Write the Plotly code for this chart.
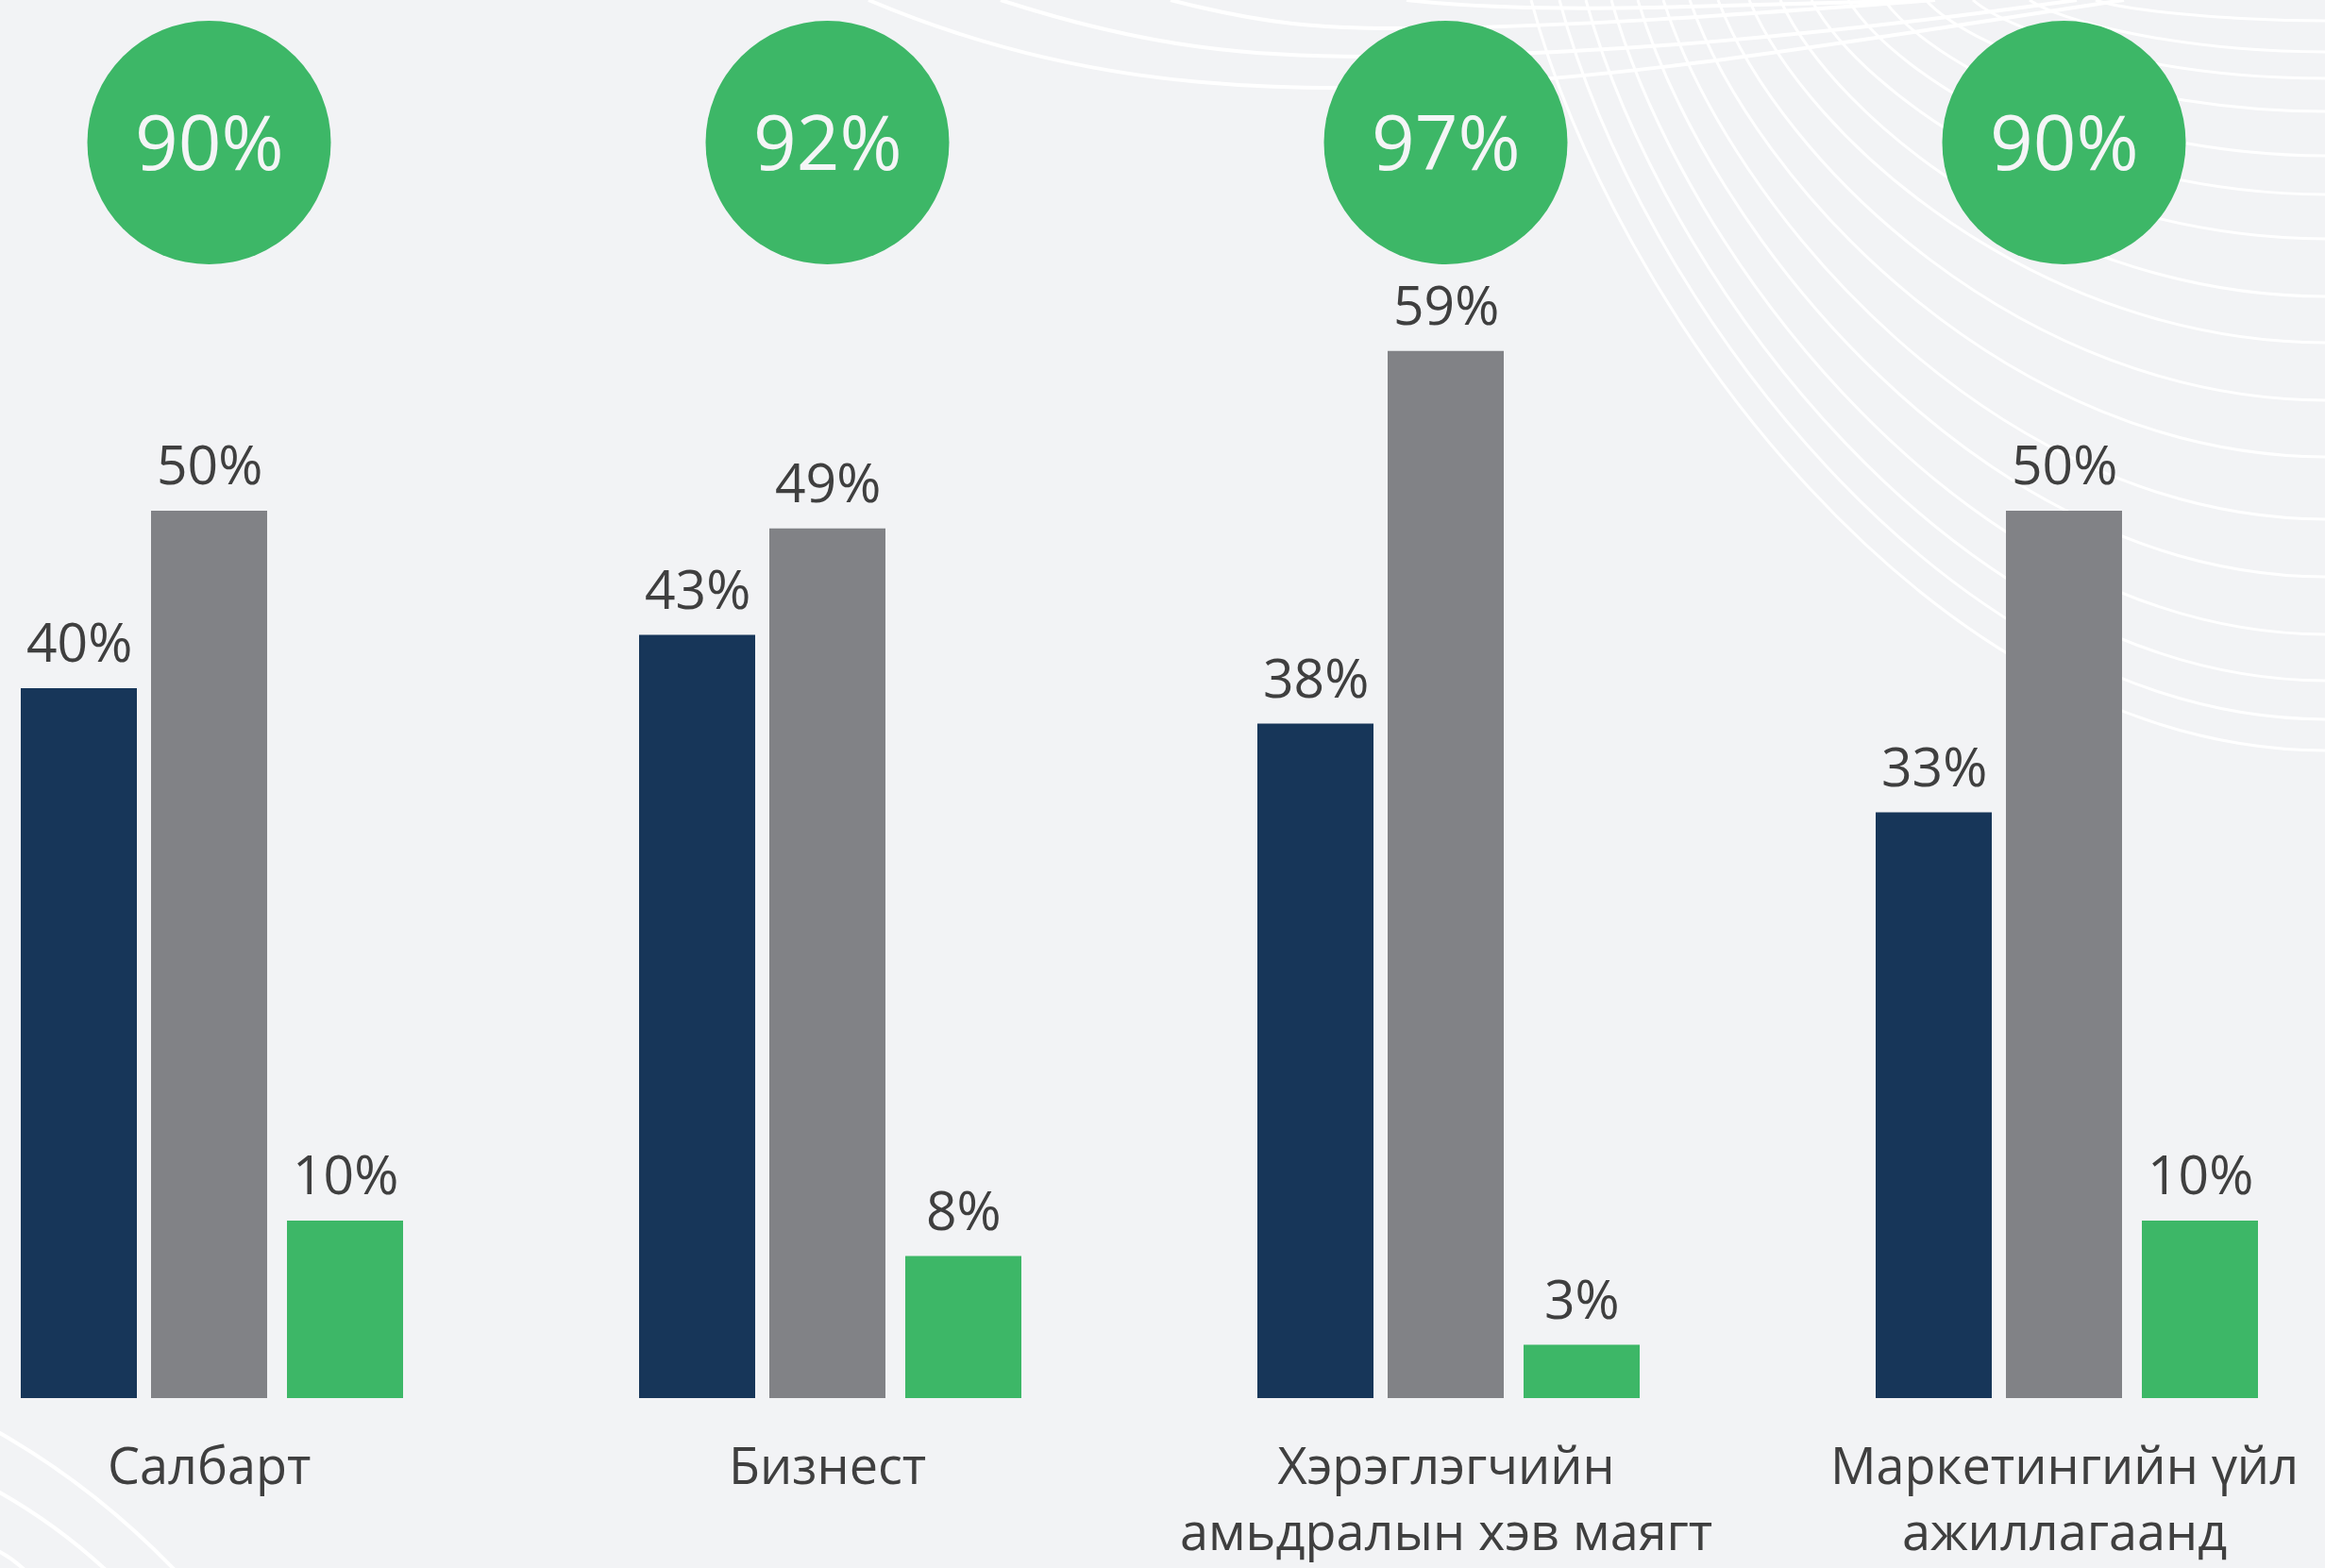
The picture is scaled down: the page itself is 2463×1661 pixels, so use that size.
import plotly.graph_objects as go

# ---- data -------------------------------------------------------------
categories = [
    "Салбарт",
    "Бизнест",
    "Хэрэглэгчийн<br>амьдралын хэв маягт",
    "Маркетингийн үйл<br>ажиллагаанд",
]
totals = [90, 92, 97, 90]          # values shown in the green circles
share_navy = [40, 43, 38, 33]
share_gray = [50, 49, 59, 50]
share_green = [10, 8, 3, 10]

# ---- page geometry (pixels) ------------------------------------------
W, H = 2463, 1661
BASE_PX = 1481          # baseline of the bars
PX_PER_PCT = 18.8       # vertical scale
GROUP_PX = 655          # distance between category centres
FIRST_PX = 221.5        # centre of the first category
CIRCLE_PX = 151         # vertical centre of the total circles
LABEL_TOP_PX = 1512     # top of the category label block

BG = "#F2F3F5"
NAVY = "#173659"
GRAY = "#818286"
GREEN = "#3DB767"
TEXT = "#3F3F3F"
FONT = "Open Sans"


def y_at(px):
    """Data-space y for a vertical pixel position."""
    return (BASE_PX - px) / PX_PER_PCT


x_range = [-FIRST_PX / GROUP_PX, (W - FIRST_PX) / GROUP_PX]
y_range = [y_at(H), y_at(0)]
circle_y = y_at(CIRCLE_PX)

bar_w = 123 / GROUP_PX
series = [
    ("navy", share_navy, NAVY, -199.5 / GROUP_PX),
    ("gray", share_gray, GRAY, -61.5 / GROUP_PX),
    ("green", share_green, GREEN, 82.5 / GROUP_PX),
]

idx = list(range(len(categories)))
fig = go.Figure()
annotations = []

for name, vals, color, off in series:
    fig.add_trace(go.Bar(
        x=idx, y=vals, name=name,
        offset=off, width=bar_w,
        marker=dict(color=color, line=dict(width=0)),
        hoverinfo="y",
    ))
    for i, v in zip(idx, vals):
        annotations.append(dict(
            x=i + off + bar_w / 2, y=v, xref="x", yref="y",
            text=f"{v}%", showarrow=False,
            yanchor="bottom", xanchor="center", yshift=9,
            font=dict(family=FONT, size=57, color=TEXT),
        ))

# green circles holding the totals
fig.add_trace(go.Scatter(
    x=idx, y=[circle_y] * len(idx), mode="markers",
    marker=dict(size=258, color=GREEN, line=dict(width=0)),
    hoverinfo="skip", cliponaxis=False,
))
for i, t in zip(idx, totals):
    annotations.append(dict(
        x=i, y=circle_y, xref="x", yref="y",
        text=f"{t}%", showarrow=False,
        yanchor="middle", xanchor="center", yshift=3,
        font=dict(family=FONT, size=80, color="#F4F5F6"),
    ))

# category names under each group
for i, c in zip(idx, categories):
    annotations.append(dict(
        x=i, y=y_at(LABEL_TOP_PX), xref="x", yref="y",
        text=c, showarrow=False, yanchor="top", xanchor="center",
        font=dict(family=FONT, size=54, color=TEXT),
    ))


# ---- decorative white line work ---------------------------------------
def pt(x, y):
    return f"{x / W:.5f},{1 - y / H:.5f}"


def path(start, *segments):
    d = "M " + pt(*start)
    for seg in segments:
        kind, pts = seg[0], seg[1:]
        d += f" {kind} " + " ".join(pt(*p) for p in pts)
    return d


shapes = []

# fan of curves dropping from the top edge into the right edge
fan = [(1622, 795), (1652, 762), (1680, 721), (1707, 672), (1735, 611),
       (1762, 550), (1790, 484), (1820, 424), (1853, 363), (1886, 314),
       (1919, 253), (1958, 206), (1996, 165), (2040, 118), (2090, 83),
       (2150, 55), (2220, 22)]
for x0, yr in fan:
    span = W - x0
    d = path((x0, 0), ("C", (x0 + 0.1 * span, 0.4 * yr),
                       (x0 + 0.5 * span, yr), (W + 2, yr)))
    shapes.append(dict(type="path", path=d, xref="paper", yref="paper",
                       line=dict(color="white", width=3), layer="below"))

# hanging arcs near the top
arcs = [
    ((920, 0), ("C", (1120, 85), (1300, 95), (1450, 93)),
     ("C", (1700, 90), (1950, 45), (2250, 0))),
    ((1060, 0), ("C", (1220, 52), (1330, 60), (1450, 60)),
     ("C", (1700, 60), (1950, 35), (2200, 0))),
    ((1240, 0), ("C", (1340, 26), (1400, 30), (1480, 30)),
     ("C", (1650, 30), (1850, 15), (2050, 0))),
    ((1490, 0), ("C", (1560, 8), (1650, 10), (1750, 8)),
     ("C", (1850, 6), (1950, 3), (2050, 0))),
]
for a in arcs:
    shapes.append(dict(type="path", path=path(*a), xref="paper", yref="paper",
                       line=dict(color="white", width=4), layer="below"))

# corner strokes at the bottom left
corner = [
    ((-2, 1517), ("Q", (100, 1575), (185, H + 2))),
    ((-2, 1580), ("Q", (60, 1615), (112, H + 2))),
    ((-2, 1643), ("Q", (12, 1650), (26, H + 2))),
]
for c in corner:
    shapes.append(dict(type="path", path=path(*c), xref="paper", yref="paper",
                       line=dict(color="white", width=4), layer="below"))

fig.update_layout(
    width=W, height=H,
    margin=dict(l=0, r=0, t=0, b=0),
    paper_bgcolor=BG, plot_bgcolor=BG,
    showlegend=False,
    barmode="overlay",
    xaxis=dict(range=x_range, visible=False, fixedrange=True),
    yaxis=dict(range=y_range, visible=False, fixedrange=True),
    annotations=annotations,
    shapes=shapes,
)

fig.write_html("out.html")
